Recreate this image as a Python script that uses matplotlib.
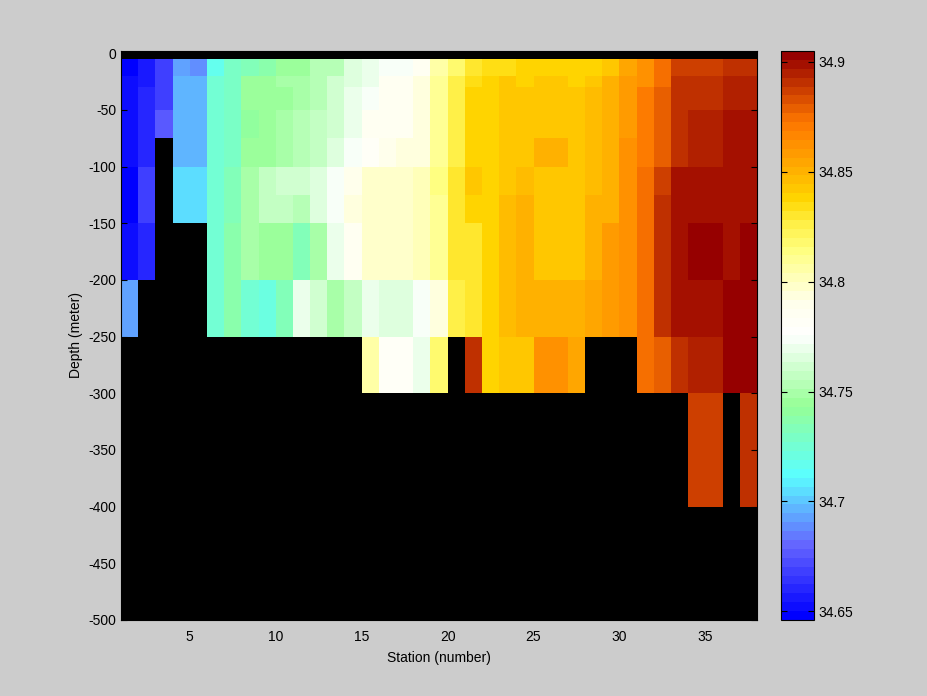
import numpy as np
import matplotlib
matplotlib.use("Agg")
import matplotlib.pyplot as plt
from matplotlib.colors import LinearSegmentedColormap
from matplotlib.ticker import FormatStrFormatter

plt.rcParams['font.family'] = ['Liberation Sans', 'DejaVu Sans']
plt.rcParams['font.size'] = 10
plt.rcParams['axes.unicode_minus'] = False

nan = np.nan

# station edges (number) and depth edges (meter) of the section grid
station_edges = list(range(1, 39))
depth_edges = [-5, -20, -30, -50, -75, -100, -125, -150, -200, -250, -300, -400]

# salinity per layer, stations 1..37 (nan = no data)
sal_005_020 = [34.648, 34.656, 34.669, 34.693, 34.689, 34.718, 34.728, 34.732, 34.738, 34.745,
               34.747, 34.752, 34.754, 34.765, 34.769, 34.772, 34.773, 34.787, 34.806, 34.818,
               34.831, 34.834, 34.836, 34.838, 34.840, 34.840, 34.837, 34.838, 34.843, 34.854,
               34.862, 34.874, 34.887, 34.887, 34.887, 34.890, 34.890]
sal_020_030 = [34.651, 34.657, 34.670, 34.697, 34.695, 34.723, 34.729, 34.747, 34.744, 34.749,
               34.749, 34.752, 34.760, 34.766, 34.771, 34.785, 34.785, 34.792, 34.808, 34.827,
               34.834, 34.838, 34.843, 34.840, 34.843, 34.843, 34.838, 34.843, 34.851, 34.860,
               34.864, 34.875, 34.889, 34.891, 34.891, 34.895, 34.895]
sal_030_050 = [34.651, 34.662, 34.670, 34.697, 34.695, 34.723, 34.729, 34.746, 34.745, 34.744,
               34.751, 34.754, 34.762, 34.768, 34.774, 34.786, 34.786, 34.793, 34.808, 34.827,
               34.838, 34.838, 34.843, 34.843, 34.843, 34.843, 34.843, 34.845, 34.851, 34.860,
               34.869, 34.880, 34.889, 34.891, 34.891, 34.895, 34.895]
sal_050_075 = [34.651, 34.662, 34.675, 34.698, 34.698, 34.723, 34.729, 34.743, 34.744, 34.751,
               34.754, 34.756, 34.762, 34.768, 34.786, 34.786, 34.786, 34.793, 34.808, 34.827,
               34.838, 34.838, 34.843, 34.843, 34.843, 34.843, 34.843, 34.845, 34.851, 34.860,
               34.869, 34.880, 34.891, 34.895, 34.895, 34.899, 34.899]
sal_075_100 = [34.651, 34.662, nan, 34.698, 34.698, 34.723, 34.729, 34.746, 34.745, 34.751,
               34.752, 34.759, 34.766, 34.772, 34.783, 34.790, 34.792, 34.793, 34.808, 34.827,
               34.838, 34.838, 34.843, 34.843, 34.849, 34.849, 34.843, 34.845, 34.852, 34.864,
               34.869, 34.880, 34.891, 34.895, 34.895, 34.899, 34.899]
sal_100_125 = [34.648, 34.670, nan, 34.703, 34.703, 34.725, 34.731, 34.749, 34.759, 34.763,
               34.761, 34.766, 34.772, 34.790, 34.799, 34.799, 34.799, 34.801, 34.814, 34.830,
               34.843, 34.838, 34.844, 34.847, 34.843, 34.843, 34.843, 34.847, 34.852, 34.864,
               34.875, 34.886, 34.899, 34.899, 34.899, 34.899, 34.899]
sal_125_150 = [34.648, 34.670, nan, 34.703, 34.703, 34.725, 34.734, 34.749, 34.759, 34.759,
               34.752, 34.765, 34.772, 34.792, 34.799, 34.799, 34.799, 34.803, 34.810, 34.830,
               34.838, 34.838, 34.845, 34.851, 34.843, 34.843, 34.843, 34.849, 34.852, 34.864,
               34.875, 34.889, 34.899, 34.899, 34.899, 34.899, 34.899]
sal_150_200 = [34.651, 34.662, nan, nan, nan, 34.725, 34.737, 34.748, 34.745, 34.745,
               34.735, 34.751, 34.768, 34.786, 34.799, 34.799, 34.799, 34.803, 34.810, 34.830,
               34.832, 34.838, 34.845, 34.851, 34.843, 34.843, 34.843, 34.849, 34.858, 34.864,
               34.875, 34.889, 34.899, 34.904, 34.904, 34.899, 34.904]
sal_200_250 = [34.691, nan, nan, nan, nan, 34.725, 34.736, 34.724, 34.722, 34.731,
               34.771, 34.761, 34.749, 34.756, 34.769, 34.765, 34.765, 34.772, 34.792, 34.825,
               34.831, 34.838, 34.845, 34.851, 34.849, 34.849, 34.849, 34.854, 34.858, 34.864,
               34.875, 34.889, 34.899, 34.899, 34.899, 34.904, 34.904]
sal_250_300 = [nan, nan, nan, nan, nan, nan, nan, nan, nan, nan,
               nan, nan, nan, nan, 34.806, 34.783, 34.783, 34.769, 34.816, nan,
               34.889, 34.840, 34.843, 34.843, 34.862, 34.862, 34.856, nan, nan, nan,
               34.875, 34.880, 34.889, 34.895, 34.895, 34.904, 34.904]
sal_300_400 = [nan, nan, nan, nan, nan, nan, nan, nan, nan, nan,
               nan, nan, nan, nan, nan, nan, nan, nan, nan, nan,
               nan, nan, nan, nan, nan, nan, nan, nan, nan, nan,
               nan, nan, nan, 34.885, 34.885, nan, 34.891]

salinity = np.ma.masked_invalid(np.array([
    sal_005_020, sal_020_030, sal_030_050, sal_050_075, sal_075_100, sal_100_125,
    sal_125_150, sal_150_200, sal_200_250, sal_250_300, sal_300_400]))

# colormap: blue -> cyan -> green -> white -> yellow -> orange -> dark red
cmap_pts = [(0.000, (0, 0, 255)), (0.125, (100, 100, 255)), (0.250, (90, 255, 255)),
            (0.375, (150, 255, 150)), (0.500, (255, 255, 255)), (0.560, (255, 255, 235)),
            (0.650, (255, 255, 130)), (0.700, (255, 240, 70)), (0.742, (255, 215, 0)),
            (0.760, (255, 200, 0)), (0.870, (255, 125, 0)), (0.890, (245, 110, 0)),
            (1.000, (150, 0, 0))]
cmap = LinearSegmentedColormap.from_list(
    'sal', [(p, tuple(c / 255 for c in rgb)) for p, rgb in cmap_pts], N=64)

gray = '#cccccc'
fig = plt.figure(figsize=(9.28, 6.96), dpi=100, facecolor=gray)
ax = fig.add_axes([121 / 928, 1 - 620 / 696, (757 - 121) / 928, (620 - 51) / 696])
ax.set_facecolor('black')

mesh = ax.pcolormesh(station_edges, depth_edges, salinity, cmap=cmap,
                     vmin=34.646, vmax=34.905, shading='flat')
ax.set_xlim(1, 38)
ax.set_ylim(-500, 2)
ax.set_xticks([5, 10, 15, 20, 25, 30, 35])
ax.set_yticks(np.arange(-500, 1, 50))
ax.tick_params(direction='in', length=4, colors='black', top=True, right=True,
               labelsize=10)
ax.tick_params(axis='x', pad=7)
ax.set_xlabel('Station (number)', fontsize=10, labelpad=5)
ax.set_ylabel('Depth (meter)', fontsize=10)
for sp in ax.spines.values():
    sp.set_color('black')

cax = fig.add_axes([781 / 928, 1 - 620 / 696, (814 - 781) / 928, (620 - 51) / 696])
cb = fig.colorbar(mesh, cax=cax)
cb.set_ticks([34.65, 34.7, 34.75, 34.8, 34.85, 34.9])
cb.ax.yaxis.set_major_formatter(FormatStrFormatter('%g'))
cb.ax.tick_params(direction='in', length=4, left=True, right=True, labelsize=10, pad=3)
cb.outline.set_edgecolor('black')

fig.savefig('out.png', dpi=100, facecolor=gray)
